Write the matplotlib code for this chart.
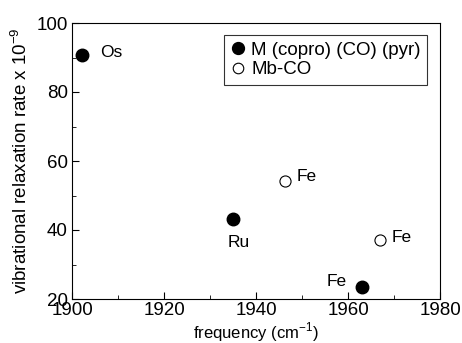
import matplotlib.pyplot as plt
from matplotlib.ticker import MultipleLocator

plt.rcParams['font.family'] = ['Liberation Sans', 'DejaVu Sans']
plt.rcParams['mathtext.fontset'] = 'custom'
plt.rcParams['mathtext.rm'] = 'Liberation Sans'

# M(copro)(CO)(pyr), filled symbols
metal_freq = [1902.2, 1935.1, 1963.0]
metal_rate = [90.7, 43.2, 23.4]
metal_names = ["Os", "Ru", "Fe"]

# Mb-CO, open symbols
mb_freq = [1946.2, 1967.0]
mb_rate = [54.3, 37.1]
mb_names = ["Fe", "Fe"]

fig = plt.figure(figsize=(4.62, 3.43), dpi=100)
ax = fig.add_axes([72 / 462, 1 - 299 / 343, 368 / 462, 276 / 343])

ax.plot(metal_freq, metal_rate, "o", color="black", ms=9, ls="none",
        label="M (copro) (CO) (pyr)")
ax.plot(mb_freq, mb_rate, "o", mfc="white", mec="black", mew=0.8, ms=8,
        ls="none", label="Mb-CO")

# point labels
offsets = [(13, 2, "left", "center"), (3.5, -17, "center", "center"),
           (-11, 4, "right", "center")]
for x, y, name, (dx, dy, ha, va) in zip(metal_freq, metal_rate, metal_names, offsets):
    ax.annotate(name, (x, y), xytext=(dx, dy), textcoords="offset points",
                ha=ha, va=va, fontsize=12.5)
for x, y, name, (dx, dy) in zip(mb_freq, mb_rate, mb_names, [(9, 3), (8.5, 1.5)]):
    ax.annotate(name, (x, y), xytext=(dx, dy), textcoords="offset points",
                ha="left", va="center", fontsize=12.5)

ax.set_xlim(1900, 1980)
ax.set_ylim(20, 100)
ax.xaxis.set_major_locator(MultipleLocator(20))
ax.xaxis.set_minor_locator(MultipleLocator(10))
ax.yaxis.set_major_locator(MultipleLocator(20))
ax.yaxis.set_minor_locator(MultipleLocator(10))
ax.tick_params(which="both", direction="in", top=False, right=False, labelsize=13.5)
ax.tick_params(which="major", length=5)
ax.tick_params(which="minor", length=3)
ax.tick_params(axis="x", pad=2)
ax.tick_params(axis="y", pad=3)

ax.set_xlabel(r"frequency (cm$^{\mathregular{-1}}$)", fontsize=12, labelpad=1)
ax.set_ylabel(r"vibrational relaxation rate x 10$^{\mathregular{-9}}$", fontsize=13.5,
              labelpad=4)

leg = ax.legend(loc="upper right", bbox_to_anchor=(0.965, 0.957), fontsize=13.5,
                handletextpad=0.3, handlelength=0.8, borderpad=0.35,
                labelspacing=0.15, fancybox=False, edgecolor="black",
                markerscale=0.95, borderaxespad=0)
leg.get_frame().set_linewidth(0.8)

fig.savefig("out.png", dpi=100)
